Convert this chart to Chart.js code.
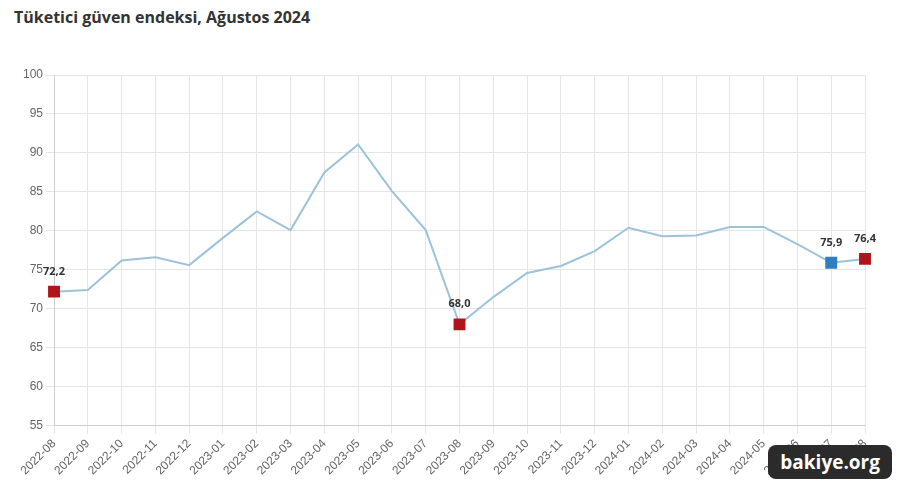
<!DOCTYPE html>
<html><head><meta charset="utf-8">
<script src="https://cdn.jsdelivr.net/npm/chart.js@4/dist/chart.umd.min.js"></script>
<style>
body{margin:0;background:#fff;font-family:"Open Sans",sans-serif;}
#wrap{position:relative;width:900px;height:487px;}
#title{position:absolute;left:14px;top:6px;font-size:16px;font-weight:bold;color:#333;}
#cv{position:absolute;left:0;top:50px;}
#wm{position:absolute;right:8px;bottom:8px;background:#2b2b2b;color:#fff;font:bold 19px "Open Sans",sans-serif;padding:4px 12px;border-radius:8px;}
</style></head><body>
<div id="wrap">
<div id="title">Tüketici güven endeksi, Ağustos 2024</div>
<canvas id="cv" width="900" height="437"></canvas>
<div id="wm">bakiye.org</div>
</div>
<script>
const categories=["2022-08","2022-09","2022-10","2022-11","2022-12","2023-01","2023-02","2023-03","2023-04","2023-05","2023-06","2023-07","2023-08","2023-09","2023-10","2023-11","2023-12","2024-01","2024-02","2024-03","2024-04","2024-05","2024-06","2024-07","2024-08"];
const values=[72.2,72.4,76.2,76.6,75.6,79.1,82.5,80.1,87.5,91.1,85.1,80.1,68.0,71.5,74.6,75.5,77.4,80.4,79.3,79.4,80.5,80.5,78.3,75.9,76.4];
const highlights={0:"#b0141a",12:"#b0141a",23:"#2f7fc1",24:"#b0141a"};
const ctx=document.getElementById('cv');
const labelPlugin={id:'lbl',afterDatasetsDraw(c){const m=c.getDatasetMeta(0);const g=c.ctx;g.save();g.font='bold 11px "Open Sans"';g.fillStyle='#333';g.textAlign='center';
for(const k in highlights){const p=m.data[k];g.fillText(values[k].toFixed(1).replace('.',','),p.x,p.y-17);}g.restore();}};
new Chart(ctx,{type:'line',data:{labels:categories,datasets:[{data:values,borderColor:'#9cc3d9',borderWidth:2,tension:0,
pointStyle:'rect',pointRadius:values.map((v,i)=>highlights[i]?7:0),pointHoverRadius:0,
pointBackgroundColor:values.map((v,i)=>highlights[i]||'#9cc3d9'),pointBorderColor:values.map((v,i)=>highlights[i]||'#9cc3d9')}]},
options:{responsive:false,animation:false,layout:{padding:{left:20,right:35,top:25,bottom:6}},
plugins:{legend:{display:false},tooltip:{enabled:false}},
scales:{x:{grid:{color:'#e6e6e6'},ticks:{color:'#666',font:{size:12},maxRotation:45,minRotation:45,autoSkip:false}},
y:{min:55,max:100,grid:{color:'#e6e6e6'},ticks:{stepSize:5,color:'#666',font:{size:12}}}}},plugins:[labelPlugin]});
</script></body></html>
